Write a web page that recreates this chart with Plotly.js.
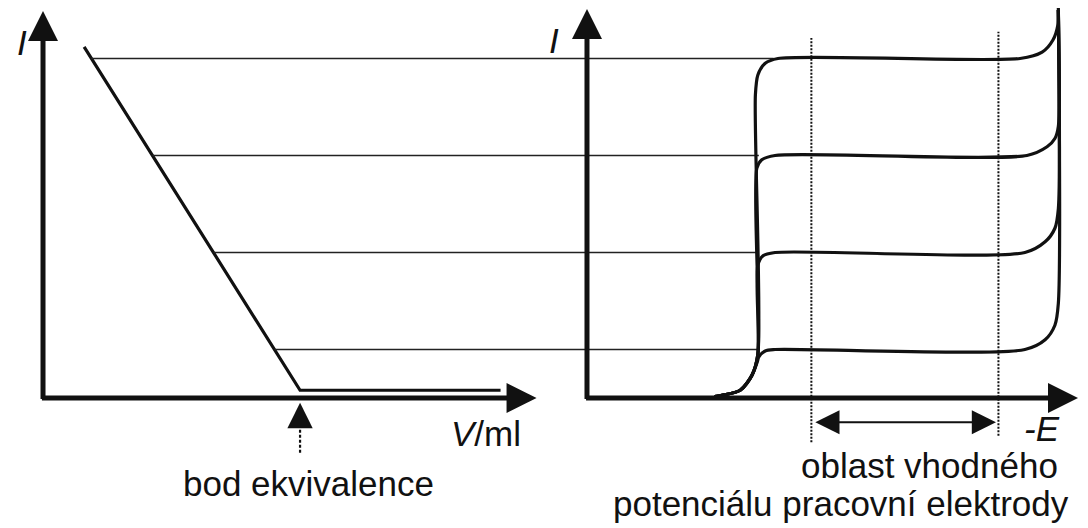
<!DOCTYPE html>
<html><head><meta charset="utf-8">
<script src="https://cdn.plot.ly/plotly-3.0.1.min.js"></script>
<style>html,body{margin:0;padding:0;background:#fff;}#chart{width:1088px;height:528px;}</style>
</head><body><div id="chart"></div>
<script>
// ---------------- data (arbitrary units) ----------------
// left panel: amperometric titration curve, I versus V/ml
const titrationV = [1.6, 10.0, 17.8];
const titrationI = [7.24, 0.16, 0.16];
const equivalenceV = 10.0;

// limiting-current levels that link both panels
const levelI = [7, 5, 3, 1];
const levelV = [1.87, 4.25, 6.63, 9.0];   // where each level meets the titration line
const levelE = [3.8, 3.5, 3.5, 3.5];      // where each level meets its current–potential curve

// right panel: current–potential curves, I versus -E
const curve7E = [2.6, 2.77, 3.12, 3.36, 3.48, 3.43, 3.48, 3.63, 3.89, 8.82, 9.27, 9.49, 9.59, 9.6];
const curve7I = [0.03, 0.06, 0.16, 0.47, 0.9, 6.25, 6.66, 6.9, 7.0, 7.0, 7.13, 7.38, 7.69, 8.04];
const curve5E = [2.6, 2.77, 3.12, 3.36, 3.48, 3.46, 3.56, 3.83, 8.96, 9.37, 9.53, 9.6, 9.6];
const curve5I = [0.03, 0.06, 0.16, 0.47, 0.9, 4.74, 4.91, 5.0, 5.0, 5.18, 5.35, 5.6, 8.0];
const curve3E = [2.6, 2.77, 3.12, 3.36, 3.48, 3.48, 3.58, 3.83, 8.92, 9.33, 9.53, 9.6, 9.6];
const curve3I = [0.03, 0.06, 0.16, 0.47, 0.9, 2.74, 2.93, 3.0, 3.0, 3.22, 3.5, 3.9, 8.0];
const curve1E = [2.6, 2.77, 3.12, 3.36, 3.47, 3.50, 3.63, 3.83, 8.92, 9.33, 9.53, 9.6, 9.6];
const curve1I = [0.03, 0.06, 0.16, 0.47, 0.75, 0.85, 0.97, 1.0, 1.0, 1.2, 1.5, 1.95, 8.0];

// region of suitable working-electrode potential
const windowE = [4.57, 8.38];
const windowTopI = [7.42, 7.55];
const windowBottomI = [-0.91, -0.78];
const windowArrowI = -0.5;

// axis extents
const axisTopLeftI = 7.98;
const axisTopRightI = 8.02;
const axisEndV = 19.2;
const axisEndE = 10.0;

// ---------------- layout helpers ----------------
const W = 1088, H = 528;
const split = 562 / W;
const xRange1 = [-1.673, 20.19];
const xRange2 = [-0.509, 10.204];
const yRange = [-2.680, 8.206];
const FONT = 'Liberation Sans, Arial, sans-serif';
const INK = '#111';

const traces = [];
// titration line
traces.push({x: titrationV, y: titrationI, xaxis: 'x', yaxis: 'y', mode: 'lines',
  line: {color: INK, width: 3.2}, hoverinfo: 'skip'});

// thin level lines, split in two pieces that meet at the subplot boundary
const lx1 = [], ly1 = [], lx2 = [], ly2 = [];
levelI.forEach((v, i) => {
  lx1.push(levelV[i], xRange1[1] + 5, null); ly1.push(v, v, null);
  lx2.push(xRange2[0] - 5, levelE[i], null); ly2.push(v, v, null);
});
traces.push({x: lx1, y: ly1, xaxis: 'x', yaxis: 'y', mode: 'lines', line: {color: '#222', width: 1.4}, hoverinfo: 'skip'});
traces.push({x: lx2, y: ly2, xaxis: 'x2', yaxis: 'y', mode: 'lines', line: {color: '#222', width: 1.4}, hoverinfo: 'skip'});

// current–potential curves
[[curve1E, curve1I], [curve3E, curve3I], [curve5E, curve5I], [curve7E, curve7I]].forEach(c => {
  traces.push({x: c[0], y: c[1], xaxis: 'x2', yaxis: 'y', mode: 'lines',
    line: {color: INK, width: 3.2, shape: 'spline', smoothing: 0.8}, hoverinfo: 'skip'});
});

// dotted window lines
windowE.forEach((e, i) => {
  traces.push({x: [e, e], y: [windowBottomI[i], windowTopI[i]], xaxis: 'x2', yaxis: 'y', mode: 'lines',
    line: {color: '#111', width: 2, dash: '2px,1.5px'}, hoverinfo: 'skip'});
});

// dashed shaft of the equivalence-point arrow
traces.push({x: [equivalenceV, equivalenceV], y: [-0.45, -1.13], xaxis: 'x', yaxis: 'y', mode: 'lines',
  line: {color: INK, width: 2.2, dash: '3px,2px'}, hoverinfo: 'skip'});

function arrow(xref, x, y, ax, ay, width, size, extra) {
  return Object.assign({xref: xref, yref: 'y', axref: xref, ayref: 'y', x: x, y: y, ax: ax, ay: ay,
    text: '', showarrow: true, arrowhead: 2, arrowsize: size, arrowwidth: width, arrowcolor: INK}, extra || {});
}
function label(text, px, py, size, extra) {
  return Object.assign({xref: 'paper', yref: 'paper', x: px / W, y: 1 - py / H, text: text,
    showarrow: false, xanchor: 'center', yanchor: 'middle',
    font: {family: FONT, size: size, color: INK}}, extra || {});
}

const annotations = [
  // left axes
  arrow('x', 0, axisTopLeftI, 0, -0.05, 5, 1.2),
  arrow('x', axisEndV, 0, -0.1, 0, 5, 1.2),
  // right axes
  arrow('x2', 0, axisTopRightI, 0, -0.05, 5, 1.2),
  arrow('x2', axisEndE, 0, -0.05, 0, 5, 1.2),
  // equivalence arrow head
  arrow('x', equivalenceV, -0.1, equivalenceV, -0.45, 2.2, 2.3),
  // double arrow of the potential window
  arrow('x2', windowE[1] - 0.05, windowArrowI, windowE[0] + 0.05, windowArrowI, 2.2, 2.2,
    {arrowside: 'end+start', startarrowhead: 2, startarrowsize: 2.2}),
  // texts
  label('<i>I</i>', 22, 43, 35),
  label('<i>I</i>', 554, 41, 35),
  label('<i>V</i>/ml', 486, 433, 35),
  label('bod ekvivalence', 308, 483, 35),
  label('<i>-E</i>', 1042, 428, 35),
  label('oblast vhodného', 929, 465, 35),
  label('potenciálu pracovní elektrody', 841, 503, 35)
];

const hidden = {visible: false, fixedrange: true};
const layout = {
  width: W, height: H, autosize: false,
  margin: {l: 0, r: 0, t: 0, b: 0, pad: 0},
  paper_bgcolor: '#fff', plot_bgcolor: 'rgba(0,0,0,0)',
  showlegend: false,
  xaxis: Object.assign({domain: [0, split], range: xRange1, anchor: 'y'}, hidden),
  xaxis2: Object.assign({domain: [split, 1], range: xRange2, anchor: 'y'}, hidden),
  yaxis: Object.assign({domain: [0, 1], range: yRange, anchor: 'x'}, hidden),
  annotations: annotations,
  font: {family: FONT, color: INK}
};
Plotly.newPlot('chart', traces, layout, {staticPlot: true, displayModeBar: false});
</script></body></html>
